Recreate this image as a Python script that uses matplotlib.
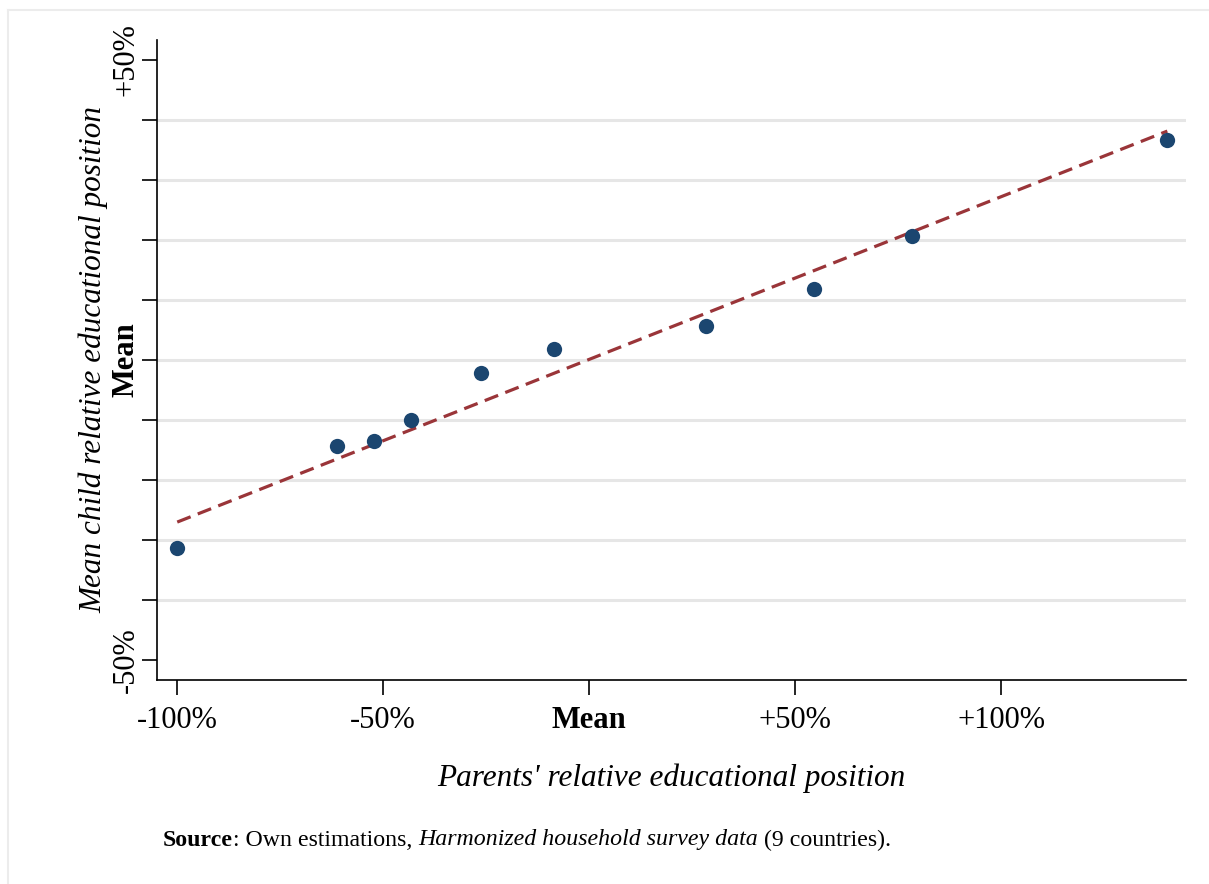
"""
Intergenerational educational mobility: parents' relative educational
position vs. mean child relative position, with a fitted line.
"""

import matplotlib

matplotlib.use("Agg")
import matplotlib.pyplot as plt
from matplotlib.lines import Line2D
import numpy as np

# ── data ─────────────────────────────────────────────────────────────
parents_pos = [-100.0, -61.2, -52.2, -43.2, -26.2, -8.5, 28.4, 54.6, 78.4, 140.3]
child_pos = [-31.3, -14.3, -13.5, -10.0, -2.2, 1.8, 5.7, 11.8, 20.7, 36.7]

# fitted line (intercept, slope)
fit_intercept = 0.1
fit_slope = 0.271

x_ticks = [-100, -50, 0, 50, 100]
x_ticklabels = ["-100%", "-50%", "Mean", "+50%", "+100%"]
y_ticks = [-50, -40, -30, -20, -10, 0, 10, 20, 30, 40, 50]
y_ticklabels = ["-50%", "", "", "", "", "Mean", "", "", "", "", "+50%"]
grid_levels = [-40, -30, -20, -10, 0, 10, 20, 30, 40]

# ── style ────────────────────────────────────────────────────────────
plt.rcParams.update(
    {
        "font.family": "serif",
        "font.serif": ["Liberation Serif", "DejaVu Serif"],
        "figure.facecolor": "white",
        "axes.facecolor": "white",
    }
)

DOT_COLOR = "#1b4670"
LINE_COLOR = "#9a3539"
GRID_COLOR = "#e6e6e6"

fig = plt.figure(figsize=(12.09, 8.84), dpi=100)
ax = fig.add_axes([0.1299, 0.2308, 0.8513, 0.724])

xlim = (-104.9, 144.9)
ylim = (-53.3, 53.3)

# horizontal grid
for g in grid_levels:
    ax.axhline(g, color=GRID_COLOR, linewidth=2.2, zorder=0)

# fitted line across the data range
xs = np.array([min(parents_pos), max(parents_pos)])
ax.plot(
    xs,
    fit_intercept + fit_slope * xs,
    linestyle=(0, (4.5, 2.4)),
    color=LINE_COLOR,
    linewidth=2.3,
    zorder=3,
)

ax.plot(
    parents_pos,
    child_pos,
    linestyle="none",
    marker="o",
    markersize=11,
    color=DOT_COLOR,
    markeredgewidth=0,
    zorder=4,
)

ax.set_xlim(*xlim)
ax.set_ylim(*ylim)

ax.spines["top"].set_visible(False)
ax.spines["right"].set_visible(False)
for side in ("left", "bottom"):
    ax.spines[side].set_linewidth(1.2)

ax.set_xticks(x_ticks)
ax.set_xticklabels(x_ticklabels, fontsize=22)
ax.set_yticks(y_ticks)
ax.set_yticklabels(y_ticklabels, fontsize=22, rotation=90, va="center")
ax.tick_params(axis="both", direction="out", length=11, width=1.2)
ax.tick_params(axis="x", pad=8)
ax.tick_params(axis="y", pad=1)

for lab in ax.get_xticklabels() + ax.get_yticklabels():
    if lab.get_text() == "Mean":
        lab.set_fontweight("bold")

ax.set_xlabel(
    "Parents' relative educational position", fontsize=22.5, style="italic", labelpad=20
)
ax.set_ylabel(
    "Mean child relative educational position", fontsize=22.5, style="italic", labelpad=2
)

# source note, built piece by piece for the mixed styles
note_y = 1 - 840 / 884
t1 = fig.text(163 / 1209, note_y, "Source", fontsize=17.2, fontweight="bold", va="center")
fig.canvas.draw()
renderer = fig.canvas.get_renderer()


def _after(txt):
    bb = txt.get_window_extent(renderer)
    return bb.x1 / fig.bbox.width


t2 = fig.text(_after(t1), note_y, ": Own estimations, ", fontsize=17.2, va="center")
t3 = fig.text(
    _after(t2), note_y, "Harmonized household survey data", fontsize=17.2,
    style="italic", va="center",
)
fig.text(_after(t3), note_y, " (9 countries).", fontsize=17.2, va="center")

# faint frame along the top and left edges
fig.add_artist(Line2D([8 / 1209, 1], [1 - 10 / 884] * 2, color="#ececec", linewidth=1.5))
fig.add_artist(Line2D([8 / 1209] * 2, [0, 1 - 10 / 884], color="#ececec", linewidth=1.5))

fig.savefig("out.png", dpi=100)
